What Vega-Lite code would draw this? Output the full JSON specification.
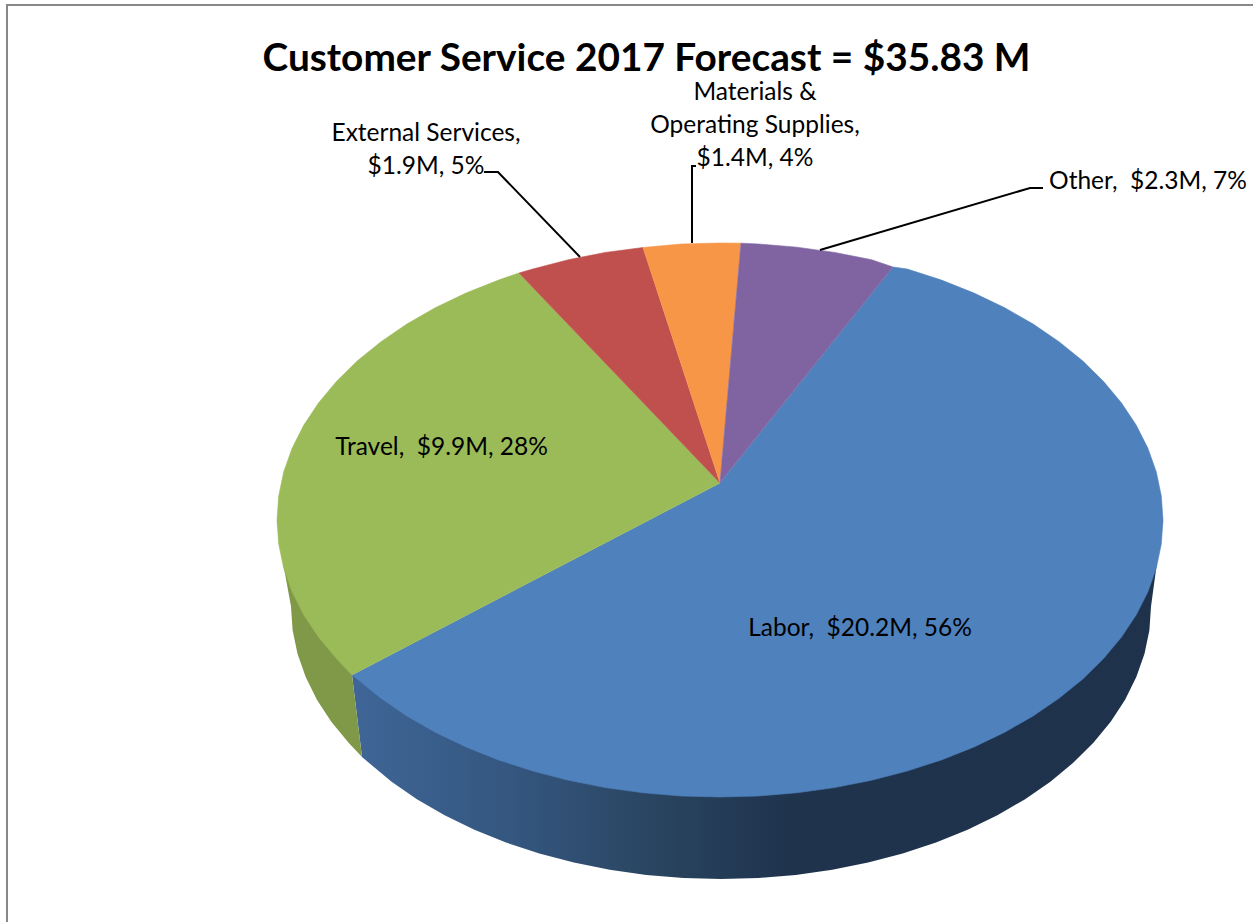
{"$schema":"https://vega.github.io/schema/vega-lite/v6.json","width":1253,"height":922,"padding":0,"autosize":"none","background":"white","config":{"view":{"stroke":null}},
"title":{"text":"Customer Service 2017 Forecast = $35.83 M","font":"Lato","fontWeight":"bold","fontSize":38.8,"color":"#000000","anchor":"middle","frame":"group","dx":20,"offset":-79},
"datasets":{
"frame":[{"x":-713,"y":402,"i":0},{"x":-713,"y":-515,"i":1},{"x":533,"y":-515,"i":2}],
"laborSide":[{"i":0,"x":-368,"y":155},{"i":1,"x":-358,"y":237},{"i":2,"x":-351.2,"y":242.8},{"i":3,"x":-328.4,"y":261.7},{"i":4,"x":-303.1,"y":279.2},{"i":5,"x":-275.4,"y":295.2},{"i":6,"x":-245.6,"y":309.7},{"i":7,"x":-214,"y":322.5},{"i":8,"x":-180.7,"y":333.5},{"i":9,"x":-146.1,"y":342.6},{"i":10,"x":-110.3,"y":349.7},{"i":11,"x":-73.7,"y":354.9},{"i":12,"x":-36.5,"y":358},{"i":13,"x":1,"y":359},{"i":14,"x":38.5,"y":358},{"i":15,"x":75.7,"y":354.9},{"i":16,"x":112.3,"y":349.7},{"i":17,"x":148.1,"y":342.6},{"i":18,"x":182.7,"y":333.5},{"i":19,"x":216,"y":322.5},{"i":20,"x":247.6,"y":309.7},{"i":21,"x":277.4,"y":295.2},{"i":22,"x":305.1,"y":279.2},{"i":23,"x":330.4,"y":261.7},{"i":24,"x":353.2,"y":242.8},{"i":25,"x":373.4,"y":222.8},{"i":26,"x":390.7,"y":201.7},{"i":27,"x":405.1,"y":179.7},{"i":28,"x":416.3,"y":157},{"i":29,"x":424.5,"y":133.8},{"i":30,"x":429.4,"y":110.3},{"i":31,"x":431,"y":86.5},{"i":32,"x":438,"y":35},{"i":33,"x":443,"y":0}],
"travelSide":[{"i":0,"x":-368,"y":155},{"i":1,"x":-358,"y":237},{"i":2,"x":-371.4,"y":222.8},{"i":3,"x":-388.7,"y":201.7},{"i":4,"x":-403.1,"y":179.7},{"i":5,"x":-414.3,"y":157},{"i":6,"x":-422.5,"y":133.8},{"i":7,"x":-427.4,"y":110.3},{"i":8,"x":-429,"y":86.5},{"i":9,"x":-438,"y":37},{"i":10,"x":-443,"y":0}],
"faces":[
{"name":"Labor","i":0,"x":0,"y":-37},{"name":"Labor","i":1,"x":173,"y":-253},{"name":"Labor","i":2,"x":187.2,"y":-251},{"name":"Labor","i":3,"x":221.5,"y":-239.9},{"name":"Labor","i":4,"x":254.1,"y":-226.9},{"name":"Labor","i":5,"x":284.8,"y":-212.2},{"name":"Labor","i":6,"x":313.2,"y":-195.9},{"name":"Labor","i":7,"x":339.3,"y":-178.1},{"name":"Labor","i":8,"x":362.9,"y":-158.9},{"name":"Labor","i":9,"x":383.6,"y":-138.5},{"name":"Labor","i":10,"x":401.5,"y":-117.1},{"name":"Labor","i":11,"x":416.3,"y":-94.7},{"name":"Labor","i":12,"x":427.9,"y":-71.7},{"name":"Labor","i":13,"x":436.3,"y":-48.1},{"name":"Labor","i":14,"x":441.3,"y":-24.1},{"name":"Labor","i":15,"x":443,"y":0},{"name":"Labor","i":16,"x":441.3,"y":24.1},{"name":"Labor","i":17,"x":436.3,"y":48.1},{"name":"Labor","i":18,"x":427.9,"y":71.7},{"name":"Labor","i":19,"x":416.3,"y":94.7},{"name":"Labor","i":20,"x":401.5,"y":117.1},{"name":"Labor","i":21,"x":383.6,"y":138.5},{"name":"Labor","i":22,"x":362.9,"y":158.9},{"name":"Labor","i":23,"x":339.3,"y":178.1},{"name":"Labor","i":24,"x":313.2,"y":195.9},{"name":"Labor","i":25,"x":284.8,"y":212.2},{"name":"Labor","i":26,"x":254.1,"y":226.9},{"name":"Labor","i":27,"x":221.5,"y":239.9},{"name":"Labor","i":28,"x":187.2,"y":251},{"name":"Labor","i":29,"x":151.5,"y":260.3},{"name":"Labor","i":30,"x":114.6,"y":267.6},{"name":"Labor","i":31,"x":76.9,"y":272.8},{"name":"Labor","i":32,"x":38.6,"y":276},{"name":"Labor","i":33,"x":0,"y":277},{"name":"Labor","i":34,"x":-38.6,"y":276},{"name":"Labor","i":35,"x":-76.9,"y":272.8},{"name":"Labor","i":36,"x":-114.6,"y":267.6},{"name":"Labor","i":37,"x":-151.5,"y":260.3},{"name":"Labor","i":38,"x":-187.2,"y":251},{"name":"Labor","i":39,"x":-221.5,"y":239.9},{"name":"Labor","i":40,"x":-254.1,"y":226.9},{"name":"Labor","i":41,"x":-284.8,"y":212.2},{"name":"Labor","i":42,"x":-313.2,"y":195.9},{"name":"Labor","i":43,"x":-339.3,"y":178.1},{"name":"Labor","i":44,"x":-362.9,"y":158.9},{"name":"Labor","i":45,"x":-368,"y":155},
{"name":"Travel","i":0,"x":0,"y":-37},{"name":"Travel","i":1,"x":-368,"y":155},{"name":"Travel","i":2,"x":-383.6,"y":138.5},{"name":"Travel","i":3,"x":-401.5,"y":117.1},{"name":"Travel","i":4,"x":-416.3,"y":94.7},{"name":"Travel","i":5,"x":-427.9,"y":71.7},{"name":"Travel","i":6,"x":-436.3,"y":48.1},{"name":"Travel","i":7,"x":-441.3,"y":24.1},{"name":"Travel","i":8,"x":-443,"y":0},{"name":"Travel","i":9,"x":-441.3,"y":-24.1},{"name":"Travel","i":10,"x":-436.3,"y":-48.1},{"name":"Travel","i":11,"x":-427.9,"y":-71.7},{"name":"Travel","i":12,"x":-416.3,"y":-94.7},{"name":"Travel","i":13,"x":-401.5,"y":-117.1},{"name":"Travel","i":14,"x":-383.6,"y":-138.5},{"name":"Travel","i":15,"x":-362.9,"y":-158.9},{"name":"Travel","i":16,"x":-339.3,"y":-178.1},{"name":"Travel","i":17,"x":-313.2,"y":-195.9},{"name":"Travel","i":18,"x":-284.8,"y":-212.2},{"name":"Travel","i":19,"x":-254.1,"y":-226.9},{"name":"Travel","i":20,"x":-221.5,"y":-239.9},{"name":"Travel","i":21,"x":-201,"y":-247},
{"name":"External Services","i":0,"x":0,"y":-37},{"name":"External Services","i":1,"x":-201,"y":-247},{"name":"External Services","i":2,"x":-187.2,"y":-251},{"name":"External Services","i":3,"x":-151.5,"y":-260.3},{"name":"External Services","i":4,"x":-114.6,"y":-267.6},{"name":"External Services","i":5,"x":-77,"y":-272.5},
{"name":"Materials & Operating Supplies","i":0,"x":0,"y":-37},{"name":"Materials & Operating Supplies","i":1,"x":-77,"y":-272.5},{"name":"Materials & Operating Supplies","i":2,"x":-38.6,"y":-276},{"name":"Materials & Operating Supplies","i":3,"x":0,"y":-277},{"name":"Materials & Operating Supplies","i":4,"x":21,"y":-276.8},
{"name":"Other","i":0,"x":0,"y":-37},{"name":"Other","i":1,"x":21,"y":-276.8},{"name":"Other","i":2,"x":38.6,"y":-276},{"name":"Other","i":3,"x":76.9,"y":-272.8},{"name":"Other","i":4,"x":114.6,"y":-267.6},{"name":"Other","i":5,"x":151.5,"y":-260.3},{"name":"Other","i":6,"x":173,"y":-253}],
"leaders":[{"name":"External Services","i":0,"x":-236,"y":-348},{"name":"External Services","i":1,"x":-222,"y":-348},{"name":"External Services","i":2,"x":-140,"y":-263},{"name":"Materials","i":0,"x":-24,"y":-354},{"name":"Materials","i":1,"x":-28,"y":-354},{"name":"Materials","i":2,"x":-28,"y":-277},{"name":"Other","i":0,"x":323,"y":-332},{"name":"Other","i":1,"x":310,"y":-332},{"name":"Other","i":2,"x":100,"y":-270}],
"labels":[{"name":"Labor","millions":20.2,"pct":56,"label":"Labor,\u00a0 $20.2M, 56%","x":140,"y":109},{"name":"Travel","millions":9.9,"pct":28,"label":"Travel,\u00a0 $9.9M, 28%","x":-278.5,"y":-72},{"name":"External Services","millions":1.9,"pct":5,"label":"External Services,\n$1.9M, 5%","x":-294,"y":-386},{"name":"Materials & Operating Supplies","millions":1.4,"pct":4,"label":"Materials &\nOperating Supplies,\n$1.4M, 4%","x":35,"y":-427},{"name":"Other","millions":2.3,"pct":7,"label":"Other,\u00a0 $2.3M, 7%","x":428,"y":-338}]
},
"encoding":{"x":{"field":"x","type":"quantitative","axis":null,"scale":{"domain":[-720,533],"nice":false,"zero":false}},"y":{"field":"y","type":"quantitative","axis":null,"scale":{"domain":[-520,402],"reverse":true,"nice":false,"zero":false}}},
"layer":[
{"data":{"name":"frame"},"mark":{"type":"line","stroke":"#888888","strokeWidth":2},"encoding":{"order":{"field":"i"}}},
{"data":{"name":"laborSide"},"mark":{"type":"line","filled":true,"strokeWidth":0,"fill":{"gradient":"linear","x1":0,"y1":0,"x2":1,"y2":0,"stops":[{"offset":0,"color":"#3f6697"},{"offset":0.2,"color":"#34567f"},{"offset":0.38,"color":"#29445f"},{"offset":0.54,"color":"#1f334d"},{"offset":1,"color":"#1e324b"}]}},"encoding":{"order":{"field":"i"}}},
{"data":{"name":"travelSide"},"mark":{"type":"line","filled":true,"strokeWidth":0,"fill":"#7f9949"},"encoding":{"order":{"field":"i"}}},
{"data":{"name":"faces"},"mark":{"type":"line","filled":true,"strokeWidth":0.6},"encoding":{"order":{"field":"i"},"color":{"field":"name","type":"nominal","legend":null,"scale":{"domain":["Labor","Travel","External Services","Materials & Operating Supplies","Other"],"range":["#4f81bd","#9bbb59","#c0504d","#f79646","#8064a2"]}},"stroke":{"field":"name","type":"nominal","legend":null,"scale":{"domain":["Labor","Travel","External Services","Materials & Operating Supplies","Other"],"range":["#4f81bd","#9bbb59","#c0504d","#f79646","#8064a2"]}}}},
{"data":{"name":"leaders"},"mark":{"type":"line","stroke":"#000000","strokeWidth":2},"encoding":{"order":{"field":"i"},"detail":{"field":"name"}}},
{"data":{"name":"labels"},"mark":{"type":"text","font":"Lato","fontSize":24.5,"color":"#000000","align":"center","baseline":"middle","lineBreak":"\n","lineHeight":33},"encoding":{"text":{"field":"label"}}}
]}
